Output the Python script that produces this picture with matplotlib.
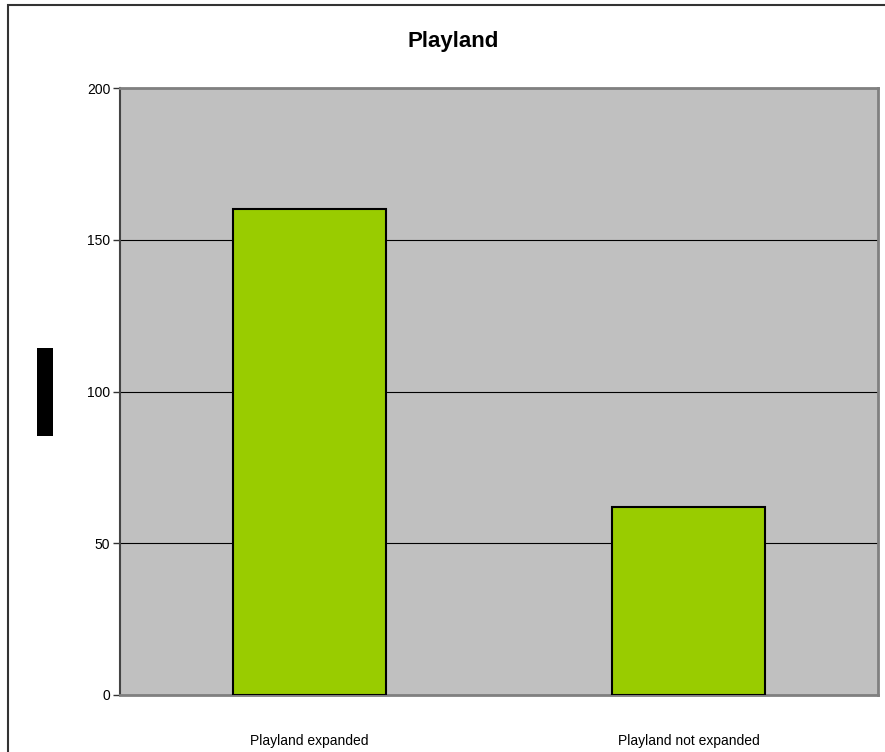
import matplotlib
matplotlib.use("Agg")
import matplotlib.pyplot as plt
from matplotlib.patches import Rectangle

# Chart data
categories = ["Playland expanded", "Playland not expanded"]
values = [160, 62]
y_ticks = [0, 50, 100, 150, 200]
title = "Playland"

plt.rcParams['font.family'] = ['Liberation Sans', 'DejaVu Sans']

fig = plt.figure(figsize=(8.85, 7.52), dpi=100)
W, H = 885, 752

# Outer chart frame (extends beyond right/bottom edges)
fig.patches.append(Rectangle((8 / W, -0.05), 1.0, 1 - 5 / H + 0.05,
                             transform=fig.transFigure, fill=False,
                             edgecolor="#333333", linewidth=1.5))

ax = fig.add_axes([120 / W, 1 - 695 / H, (878 - 120) / W, (695 - 88) / H])
ax.set_facecolor("#C0C0C0")

x = list(range(len(categories)))
ax.bar(x, values, width=0.406, color="#99CC00", edgecolor="black",
       linewidth=1.5, zorder=3)

ax.set_xlim(-0.5, 1.5)
ax.set_ylim(0, 200)
ax.set_yticks(y_ticks)
ax.set_yticklabels([str(v) for v in y_ticks], fontsize=10)
ax.set_xticks(x)
ax.set_xticklabels(categories, fontsize=10)
ax.tick_params(axis="x", length=0, pad=28)
ax.tick_params(axis="y", length=5, width=1, color="#333333", pad=2)

ax.yaxis.grid(True, color="black", linewidth=0.8, zorder=1)
ax.set_axisbelow(True)

for side in ["top", "right", "bottom"]:
    ax.spines[side].set_color("#808080")
    ax.spines[side].set_linewidth(2)
ax.spines["left"].set_color("#444444")
ax.spines["left"].set_linewidth(1.5)

fig.text(453 / W, 1 - 41 / H, title, ha="center", va="center",
         fontsize=16, fontweight="bold")

# Y-axis label block
fig.patches.append(Rectangle((37 / W, 1 - 436 / H), 16 / W, 88 / H,
                             transform=fig.transFigure, facecolor="black",
                             edgecolor="none"))

fig.savefig("out.png", dpi=100, facecolor="white")
